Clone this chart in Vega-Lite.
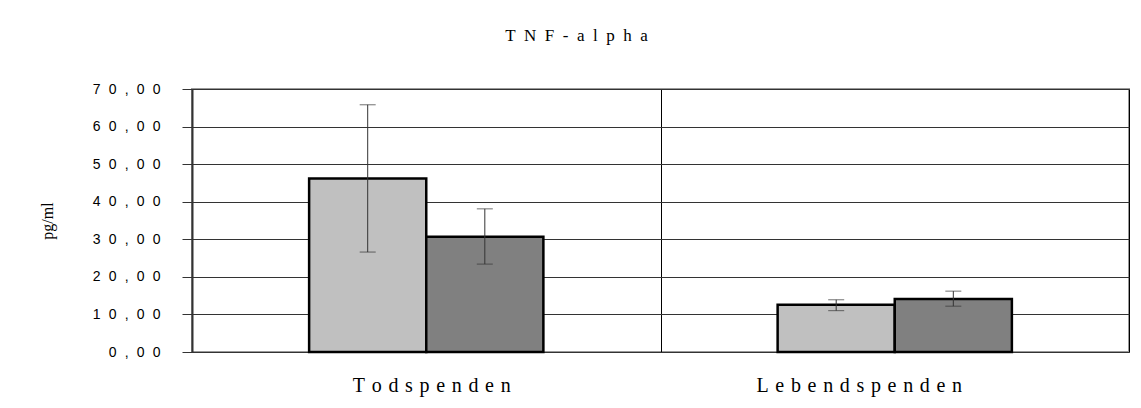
{
  "$schema": "https://vega.github.io/schema/vega-lite/v6.json",
  "autosize": "none",
  "width": 937,
  "height": 263,
  "padding": {"left": 192, "top": 89, "right": 12, "bottom": 56},
  "background": "white",
  "title": {
    "text": "T\u2002N\u2002F\u2002-\u2002a\u2002l\u2002p\u2002h\u2002a",
    "font": "Liberation Serif",
    "fontSize": 17,
    "fontWeight": "normal",
    "color": "black",
    "anchor": "middle",
    "dx": -84,
    "offset": 20,
    "baseline": "bottom"
  },
  "data": {
    "values": [
      {"kat": "Todspenden", "serie": "1", "wert": 46.2, "lo": 26.6, "hi": 65.8},
      {"kat": "Todspenden", "serie": "2", "wert": 30.7, "lo": 23.4, "hi": 38.1},
      {"kat": "Lebendspenden", "serie": "1", "wert": 12.6, "lo": 11.0, "hi": 13.9},
      {"kat": "Lebendspenden", "serie": "2", "wert": 14.1, "lo": 12.2, "hi": 16.2}
    ]
  },
  "encoding": {
    "x": {
      "field": "kat",
      "type": "nominal",
      "sort": ["Todspenden", "Lebendspenden"],
      "title": null,
      "scale": {"paddingInner": 0, "paddingOuter": 0},
      "axis": {
        "labelAngle": 0,
        "labelFont": "Liberation Serif",
        "labelFontSize": 20,
        "labelColor": "black",
        "labelBaseline": "middle",
        "labelPadding": 33,
        "labelLimit": 500,
        "labelOverlap": false,
        "labelExpr": "isValid(datum.value) ? replace(datum.value, regexp('(.)(?=.)', 'g'), '$1\u2004') : ''",
        "labelOffset": {"condition": {"test": "datum.value == 'Lebendspenden'", "value": -36}, "value": 5},
        "ticks": false,
        "tickSize": 0,
        "domain": false,
        "grid": true,
        "tickBand": "extent",
        "gridColor": "black",
        "gridWidth": 1,
        "gridOpacity": 1
      }
    },
    "xOffset": {
      "field": "serie",
      "type": "nominal",
      "scale": {"paddingInner": 0, "paddingOuter": 1}
    },
    "y": {
      "field": "wert",
      "type": "quantitative",
      "title": "pg/ml",
      "scale": {"domain": [0, 70], "nice": false},
      "axis": {
        "values": [0, 10, 20, 30, 40, 50, 60, 70],
        "tickCount": 8,
        "labelExpr": "replace(replace(format(datum.value, '.2f'), '.', ','), regexp('(.)(?=.)', 'g'), '$1\u2002\u200a')",
        "labelFont": "Liberation Sans",
        "labelFontSize": 14,
        "labelColor": "black",
        "labelPadding": 22,
        "labelOverlap": false,
        "labelFlush": false,
        "tickSize": 10,
        "tickColor": "#333",
        "tickWidth": 1,
        "domainColor": "#333",
        "domainWidth": 2,
        "grid": true,
        "gridColor": "#333",
        "gridWidth": 1,
        "gridOpacity": 1,
        "titleFont": "Liberation Serif",
        "titleFontSize": 16,
        "titleFontWeight": "normal",
        "titleColor": "black",
        "titlePadding": 37
      }
    }
  },
  "layer": [
    {
      "mark": {"type": "bar", "stroke": "black", "strokeWidth": 2.5},
      "encoding": {
        "color": {
          "field": "serie",
          "type": "nominal",
          "scale": {"range": ["#c0c0c0", "#808080"]},
          "legend": null
        }
      }
    },
    {
      "mark": {"type": "rule", "color": "#333", "strokeWidth": 1},
      "encoding": {
        "y": {"field": "lo", "type": "quantitative"},
        "y2": {"field": "hi"}
      }
    },
    {
      "mark": {"type": "tick", "color": "#333", "size": 16, "thickness": 1},
      "encoding": {
        "y": {"field": "lo", "type": "quantitative"}
      }
    },
    {
      "mark": {"type": "tick", "color": "#333", "size": 16, "thickness": 1},
      "encoding": {
        "y": {"field": "hi", "type": "quantitative"}
      }
    }
  ],
  "config": {
    "view": {"stroke": "#999", "strokeWidth": 2}
  }
}
